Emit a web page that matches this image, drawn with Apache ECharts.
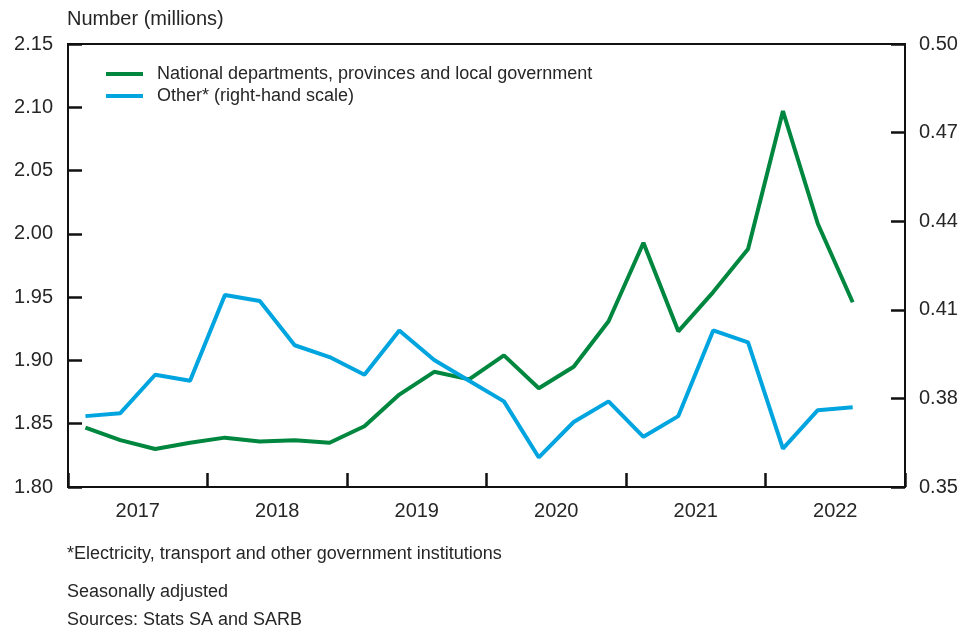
<!DOCTYPE html>
<html>
<head>
<meta charset="utf-8">
<script src="https://cdn.jsdelivr.net/npm/echarts@6/dist/echarts.min.js"></script>
<style>
  body { margin: 0; background: #fff; }
  #chart { width: 964px; height: 630px; }
</style>
</head>
<body>
<div id="chart"></div>
<script>
// quarters 2017Q1 .. 2022Q4 (data runs to 2022Q3)
const years = ['2017', '2018', '2019', '2020', '2021', '2022'];
const quarters = [];
years.forEach(y => { for (let q = 1; q <= 4; q++) quarters.push(y + 'Q' + q); });

// national departments, provinces and local government (left scale, millions)
const national = [1.847, 1.837, 1.830, 1.835, 1.839, 1.836, 1.837, 1.835,
                  1.848, 1.873, 1.891, 1.885, 1.904, 1.878, 1.895, 1.931,
                  1.993, 1.923, 1.954, 1.988, 2.097, 2.008, 1.946, null];
// other (right-hand scale, millions)
const other = [0.374, 0.375, 0.388, 0.386, 0.415, 0.413, 0.398, 0.394,
               0.388, 0.403, 0.393, 0.386, 0.379, 0.360, 0.372, 0.379,
               0.367, 0.374, 0.403, 0.399, 0.363, 0.376, 0.377, null];

const FONT = 'Liberation Sans';
const TXT = '#262626';
const AX = '#111';

const chart = echarts.init(document.getElementById('chart'));
chart.setOption({
    animation: false,
    textStyle: { fontFamily: FONT },
    grid: {
        left: 68, right: 59, top: 44, bottom: 143,
        show: true, borderColor: AX, borderWidth: 2
    },
    title: [
        { text: 'Number (millions)', left: 62, top: 4,
          textStyle: { fontSize: 20, fontWeight: 'normal', color: TXT, fontFamily: FONT } },
        { text: '*Electricity, transport and other government institutions', left: 62, top: 540,
          textStyle: { fontSize: 18, fontWeight: 'normal', color: TXT, fontFamily: FONT } },
        { text: 'Seasonally adjusted', left: 62, top: 578,
          textStyle: { fontSize: 18, fontWeight: 'normal', color: TXT, fontFamily: FONT } },
        { text: 'Sources: Stats SA and SARB', left: 62, top: 606,
          textStyle: { fontSize: 18, fontWeight: 'normal', color: TXT, fontFamily: FONT } }
    ],
    legend: {
        orient: 'vertical',
        left: 101, top: 60,
        itemWidth: 37, itemHeight: 4, itemGap: 4,
        icon: 'rect',
        textStyle: { fontSize: 18, color: TXT, fontFamily: FONT, padding: [0, 0, 0, 9] },
        data: ['National departments, provinces and local government', 'Other* (right-hand scale)']
    },
    xAxis: [
        { type: 'category', data: quarters, boundaryGap: true, position: 'bottom',
          axisLine: { show: true, lineStyle: { color: AX, width: 2 } },
          axisTick: { show: true, inside: true, length: 14, interval: 3,
                      lineStyle: { color: AX, width: 2.5 } },
          axisLabel: { show: false } },
        { type: 'category', data: years, boundaryGap: true, position: 'bottom',
          axisLine: { show: false },
          axisTick: { show: false },
          axisLabel: { margin: 14, fontSize: 20, color: TXT, fontFamily: FONT } }
    ],
    yAxis: [
        { type: 'value', min: 1.80, max: 2.15, interval: 0.05, position: 'left',
          splitLine: { show: false },
          axisLine: { show: true, lineStyle: { color: AX, width: 2 } },
          axisTick: { show: true, inside: true, length: 14, lineStyle: { color: AX, width: 2.5 } },
          axisLabel: { margin: 15, fontSize: 20, color: TXT, fontFamily: FONT,
                       formatter: v => v.toFixed(2) } },
        { type: 'value', min: 0.35, max: 0.50, interval: 0.03, position: 'right',
          splitLine: { show: false },
          axisLine: { show: true, lineStyle: { color: AX, width: 2 } },
          axisTick: { show: true, inside: true, length: 14, lineStyle: { color: AX, width: 2.5 } },
          axisLabel: { margin: 14, fontSize: 20, color: TXT, fontFamily: FONT,
                       formatter: v => v.toFixed(2) } }
    ],
    series: [
        { name: 'National departments, provinces and local government', type: 'line',
          xAxisIndex: 0, yAxisIndex: 0, data: national,
          symbol: 'none', color: '#00873f', lineStyle: { width: 4, color: '#00873f' } },
        { name: 'Other* (right-hand scale)', type: 'line',
          xAxisIndex: 0, yAxisIndex: 1, data: other,
          symbol: 'none', color: '#00a5e0', lineStyle: { width: 4, color: '#00a5e0' } }
    ]
});
</script>
</body>
</html>
